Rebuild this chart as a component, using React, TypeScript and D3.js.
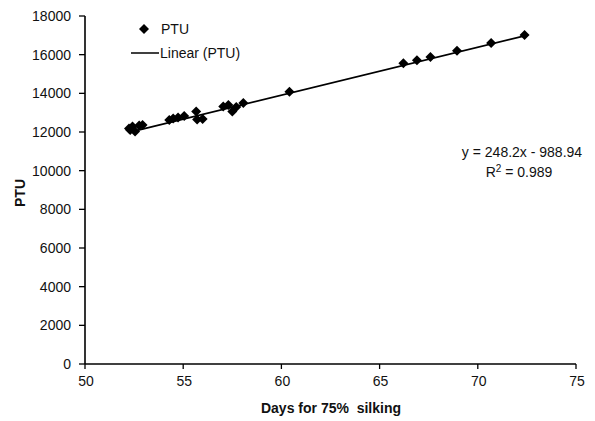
import React from "react";
import * as d3 from "d3";

const days: number[] = [
  52.24, 52.3, 52.42, 52.55, 52.76, 52.93,
  54.29, 54.49, 54.74, 55.05,
  55.66, 55.71, 55.99,
  57.04, 57.3, 57.5, 57.7, 58.06,
  60.41,
  66.21, 66.9, 67.59, 68.94, 70.68, 72.38,
];
const ptu: number[] = [
  12181, 12103, 12284, 12026, 12336, 12362,
  12621, 12698, 12750, 12828,
  13060, 12647, 12672,
  13319, 13397, 13060, 13293, 13500,
  14087,
  15556, 15711, 15882, 16208, 16606, 17020,
];
const xTicks: number[] = [50, 55, 60, 65, 70, 75];
const yTicks: number[] = [0, 2000, 4000, 6000, 8000, 10000, 12000, 14000, 16000, 18000];
const slope = 248.2;
const intercept = -988.94;
const equationText = "y = 248.2x - 988.94";
const r2Value = "0.989";
const xTitle = "Days for 75%\u00A0 silking";
const yTitle = "PTU";
const seriesName = "PTU";
const trendName = "Linear (PTU)";

const W = 595;
const H = 421;
const FONT = "'Liberation Sans', Arial, sans-serif";

export default function App() {
  const x = d3.scaleLinear().domain([50, 75]).range([85, 576]);
  const y = d3.scaleLinear().domain([0, 18000]).range([364, 16]);

  const xMin = d3.min(days) as number;
  const xMax = d3.max(days) as number;
  const line = d3
    .line<number>()
    .x((d) => x(d))
    .y((d) => y(slope * d + intercept));
  const trendPath = line([xMin, xMax]) || "";

  const diamond = (cx: number, cy: number, r: number) =>
    `M${cx},${cy - r}L${cx + r},${cy}L${cx},${cy + r}L${cx - r},${cy}Z`;

  return (
    <svg
      width={W}
      height={H}
      style={{ position: "absolute", left: 0, top: 0, background: "#fff" }}
      fontFamily={FONT}
    >
      <rect x={0} y={0} width={W} height={H} fill="#fff" />
      {/* axes */}
      <line x1={x(50)} x2={x(75)} y1={y(0)} y2={y(0)} stroke="#000" strokeWidth={1.6} />
      <line x1={x(50)} x2={x(50)} y1={y(0)} y2={y(18000)} stroke="#000" strokeWidth={1.6} />
      {yTicks.map((t) => (
        <g key={"y" + t}>
          <line x1={x(50) - 6} x2={x(50)} y1={y(t)} y2={y(t)} stroke="#000" strokeWidth={1.3} />
          <text x={71} y={y(t)} dy="0.35em" textAnchor="end" fontSize={14} fill="#111">
            {t}
          </text>
        </g>
      ))}
      {xTicks.map((t) => (
        <g key={"x" + t}>
          <line x1={x(t)} x2={x(t)} y1={y(0)} y2={y(0) + 5} stroke="#000" strokeWidth={1.3} />
          <text x={x(t) + 1} y={381} dy="0.35em" textAnchor="middle" fontSize={14} fill="#111">
            {t}
          </text>
        </g>
      ))}
      <text x={331} y={408} dy="0.35em" textAnchor="middle" fontSize={14} fontWeight="bold" fill="#111">
        {xTitle}
      </text>
      <text
        transform={`translate(20,193) rotate(-90)`}
        textAnchor="middle"
        dy="0.35em"
        fontSize={14}
        fontWeight="bold"
        fill="#111"
      >
        {yTitle}
      </text>
      {/* trend line */}
      <path d={trendPath} fill="none" stroke="#000" strokeWidth={1.7} />
      {/* points */}
      {days.map((d, i) => (
        <path key={"p" + i} d={diamond(x(d), y(ptu[i]), 5)} fill="#000" />
      ))}
      {/* legend */}
      <path d={diamond(144, 29, 5)} fill="#000" />
      <text x={161} y={29} dy="0.35em" fontSize={14} fill="#111">
        {seriesName}
      </text>
      <line x1={131} x2={159} y1={53} y2={53} stroke="#000" strokeWidth={1.5} />
      <text x={160} y={53} dy="0.35em" fontSize={14} fill="#111">
        {trendName}
      </text>
      {/* equation */}
      <text x={522} y={152} dy="0.35em" textAnchor="middle" fontSize={14} fill="#111">
        {equationText}
      </text>
      <text x={519} y={172} dy="0.35em" textAnchor="middle" fontSize={14} fill="#111">
        R<tspan dy="-5" fontSize={10}>2</tspan>
        <tspan dy="5">{" = " + r2Value}</tspan>
      </text>
    </svg>
  );
}
